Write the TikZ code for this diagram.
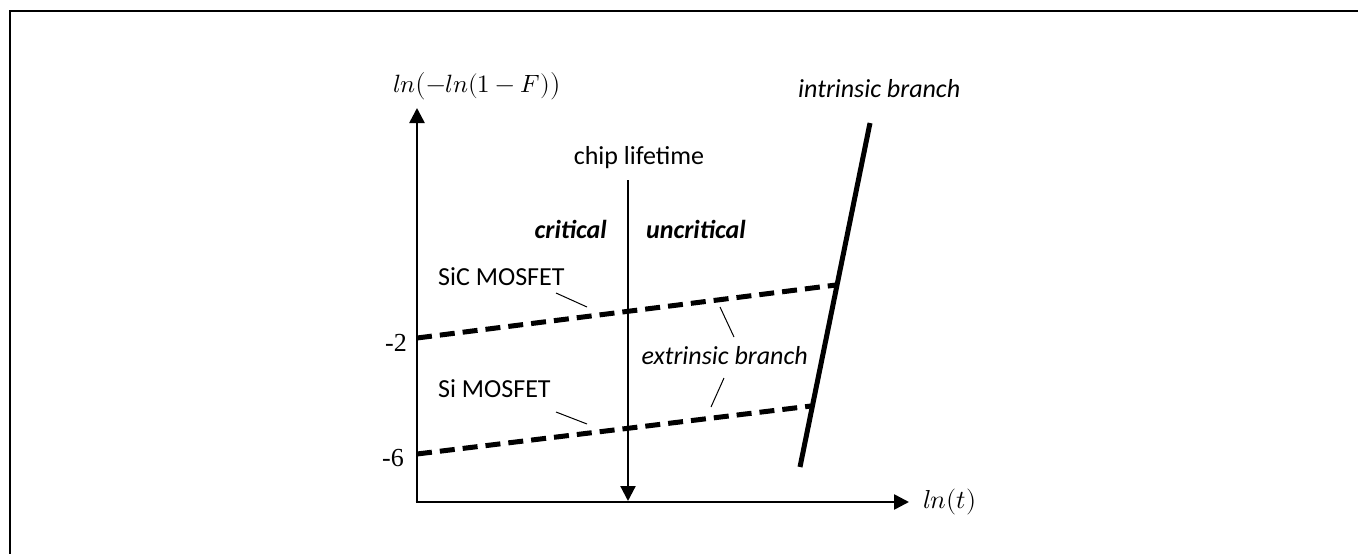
\documentclass[tikz,border=0pt]{standalone}
\usepackage{fontspec}
\usepackage{unicode-math}
\setmainfont{Carlito}
\setmathfont{Latin Modern Math}
\newfontfamily\timesfont{Liberation Serif}
\usetikzlibrary{arrows.meta}
\tikzset{
  lbl/.style={inner sep=0pt, font=\fontsize{26}{30}\selectfont},
  ilbl/.style={lbl, font=\fontsize{26}{30}\selectfont\itshape},
  blbl/.style={lbl, font=\fontsize{26}{30}\selectfont\bfseries\itshape},
  tlbl/.style={inner sep=0pt, font=\fontsize{26}{30}\selectfont\timesfont},
  mlbl/.style={inner sep=0pt, font=\fontsize{26}{30}\selectfont},
  axis/.style={line width=2.6pt, -{Triangle[length=15pt,width=15pt]}},
  chiparrow/.style={line width=2.2pt, -{Triangle[length=15pt,width=15pt]}},
  branchdash/.style={line width=5pt, dash pattern=on 15pt off 8pt},
  intrinsic/.style={line width=5pt},
  leader/.style={line width=1pt},
  frameline/.style={line width=2pt}
}
\begin{document}
\begin{tikzpicture}[x=1pt,y=-1pt]
\useasboundingbox (0,0) rectangle (1358,554);
% frame
\coordinate (fTL) at (10,11);
\coordinate (fTR) at (1358,11);
\coordinate (fBL) at (10,554);
\draw[frameline] (fTR) -- (fTL) -- (fBL);
% axes
\coordinate (O) at (417,502);
\coordinate (ytip) at (417,108);
\coordinate (xtip) at (909,502);
\draw[axis] (O) -- (ytip);
\draw[axis] ([xshift=-1.3pt]O) -- (xtip);
\node[mlbl, font=\fontsize{25}{29}\selectfont] (ylab) at (477,86) {$ln\bigl(-ln(1-F)\bigr)$};
\node[mlbl, anchor=west] (xlab) at (923,502) {$ln(t)$};
% chip lifetime
\coordinate (chiptop) at (628,180);
\coordinate (chipbot) at (628,501);
\draw[chiparrow] (chiptop) -- (chipbot);
\node[lbl, anchor=base] (chiplab) at (639,164) {chip lifetime};
\node[blbl, anchor=base east] (crit) at (607,238) {critical};
\node[blbl, anchor=base west] (uncrit) at (646,238) {uncritical};
% branches
\coordinate (sicA) at (417,338);
\coordinate (sicB) at (836,285);
\coordinate (siA) at (417,454);
\coordinate (siB) at (811,406);
\draw[branchdash] (sicA) -- (sicB);
\draw[branchdash] (siA) -- (siB);
\coordinate (intTop) at (870,123);
\coordinate (intBot) at (800,467);
\draw[intrinsic] (intTop) -- (intBot);
% tick labels
\node[tlbl, anchor=east] (m2) at (407,343) {-2};
\node[tlbl, anchor=east] (m6) at (404,458) {-6};
% labels
\node[lbl, anchor=base west] (siclab) at (438,285) {SiC MOSFET};
\node[lbl, anchor=base west] (silab) at (438,397) {Si MOSFET};
\node[ilbl, anchor=base west] (intlab) at (798,97) {intrinsic branch};
\node[ilbl, anchor=base east] (extlab) at (808,364) {extrinsic branch};
% leader lines
\coordinate (l1a) at (556,293); \coordinate (l1b) at (587,307);
\coordinate (l2a) at (556,412); \coordinate (l2b) at (587,424);
\coordinate (l3a) at (720,307); \coordinate (l3b) at (734,337);
\coordinate (l4a) at (724,378); \coordinate (l4b) at (711,407);
\draw[leader] (l1a) -- (l1b);
\draw[leader] (l2a) -- (l2b);
\draw[leader] (l3a) -- (l3b);
\draw[leader] (l4a) -- (l4b);
\end{tikzpicture}
\end{document}
